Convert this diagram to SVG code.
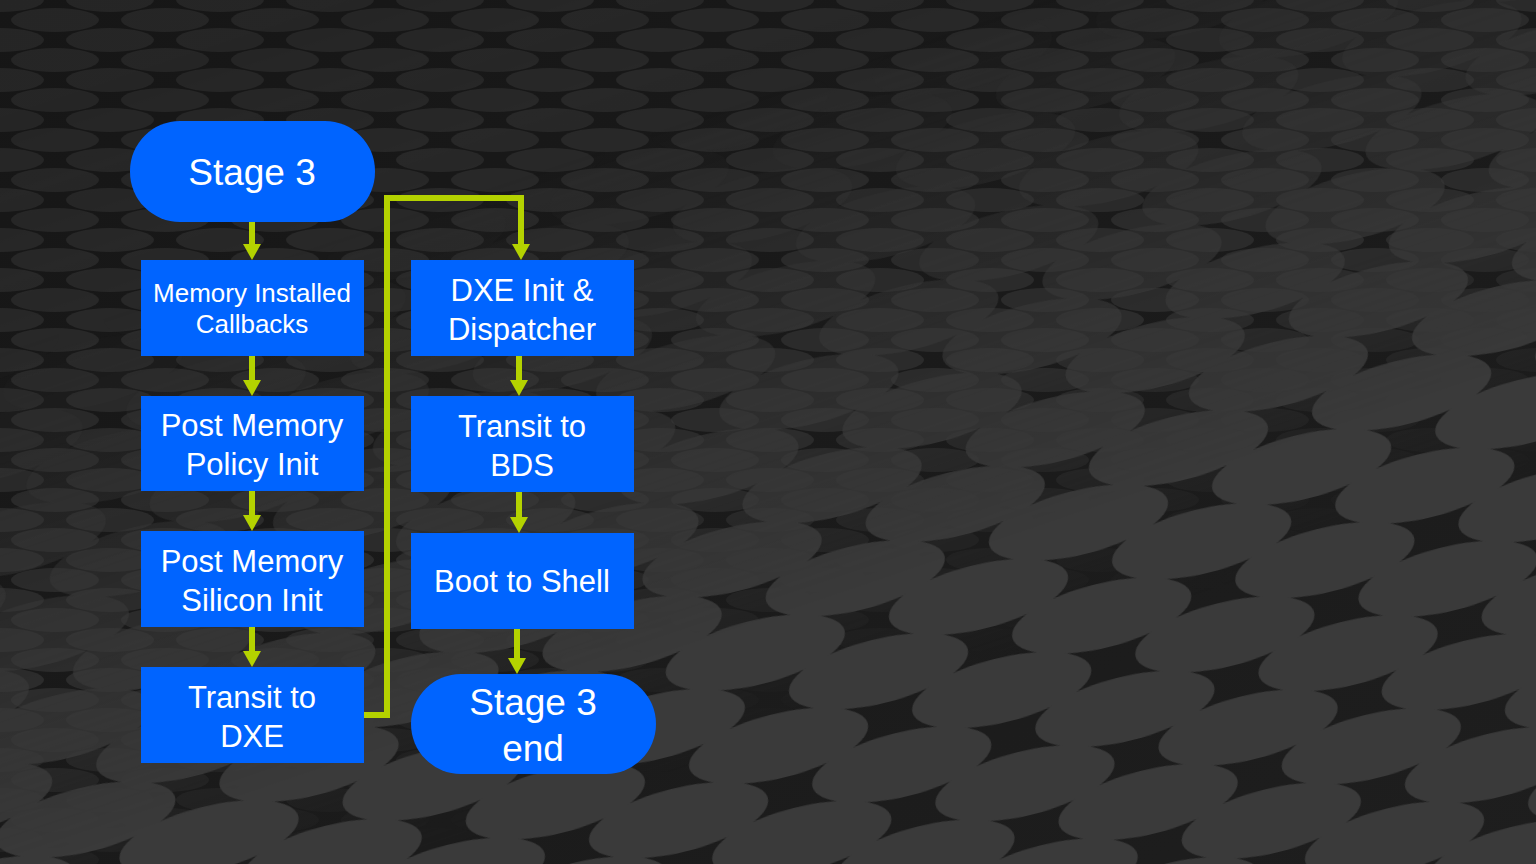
<svg xmlns="http://www.w3.org/2000/svg" width="1536" height="864" viewBox="0 0 1536 864">
<defs>
<style>
.box{fill:#0064FF;}
.lbl{font-family:"Liberation Sans",Arial,sans-serif;fill:#FFFFFF;text-anchor:middle;}
.conn{stroke:#B4D200;stroke-width:6;fill:none;}
.head{fill:#B4D200;}
</style>
<linearGradient id="bg" x1="0" y1="0" x2="1" y2="1">
<stop offset="0" stop-color="#161616"/>
<stop offset="1" stop-color="#1e1e1e"/>
</linearGradient>
<pattern id="ellS" width="110" height="40" patternUnits="userSpaceOnUse">
<ellipse cx="55" cy="20" rx="44" ry="12" fill="#2c2c2c"/>
<ellipse cx="0" cy="0" rx="44" ry="12" fill="#2c2c2c"/>
<ellipse cx="110" cy="0" rx="44" ry="12" fill="#2c2c2c"/>
<ellipse cx="0" cy="40" rx="44" ry="12" fill="#2c2c2c"/>
<ellipse cx="110" cy="40" rx="44" ry="12" fill="#2c2c2c"/>
</pattern>
<pattern id="ellL" width="230" height="96" patternUnits="userSpaceOnUse" patternTransform="rotate(-14)">
<ellipse cx="115" cy="48" rx="92" ry="32" fill="#3a3a3a"/>
<ellipse cx="0" cy="0" rx="92" ry="32" fill="#3a3a3a"/>
<ellipse cx="230" cy="0" rx="92" ry="32" fill="#3a3a3a"/>
<ellipse cx="0" cy="96" rx="92" ry="32" fill="#3a3a3a"/>
<ellipse cx="230" cy="96" rx="92" ry="32" fill="#3a3a3a"/>
</pattern>
<linearGradient id="fadeL" x1="0" y1="0" x2="0.6" y2="1">
<stop offset="0.3" stop-color="#fff" stop-opacity="0"/>
<stop offset="0.75" stop-color="#fff" stop-opacity="1"/>
</linearGradient>
<linearGradient id="fadeS" x1="0" y1="0" x2="0.6" y2="1">
<stop offset="0.1" stop-color="#fff" stop-opacity="0.7"/>
<stop offset="0.6" stop-color="#fff" stop-opacity="1"/>
<stop offset="0.85" stop-color="#fff" stop-opacity="0"/>
</linearGradient>
<mask id="mL"><rect width="1536" height="864" fill="url(#fadeL)"/></mask>
<mask id="mS"><rect width="1536" height="864" fill="url(#fadeS)"/></mask>
</defs>
<g id="background">
<rect width="1536" height="864" fill="url(#bg)"/>
<rect width="1536" height="864" fill="url(#ellS)" mask="url(#mS)"/>
<rect width="1536" height="864" fill="url(#ellL)" mask="url(#mL)"/>
</g>
<g id="connectors">
<line class="conn" x1="252" y1="221" x2="252" y2="246"/>
<polygon class="head" points="243,244 261,244 252,260"/>
<line class="conn" x1="252" y1="355" x2="252" y2="382"/>
<polygon class="head" points="243,380 261,380 252,396"/>
<line class="conn" x1="252" y1="490" x2="252" y2="517"/>
<polygon class="head" points="243,515 261,515 252,531"/>
<line class="conn" x1="252" y1="626" x2="252" y2="653"/>
<polygon class="head" points="243,651 261,651 252,667"/>
<polyline class="conn" points="363,715 387,715 387,198 521,198 521,246"/>
<polygon class="head" points="512,244 530,244 521,260"/>
<line class="conn" x1="519" y1="355" x2="519" y2="382"/>
<polygon class="head" points="510,380 528,380 519,396"/>
<line class="conn" x1="519" y1="491" x2="519" y2="519"/>
<polygon class="head" points="510,517 528,517 519,533"/>
<line class="conn" x1="517" y1="628" x2="517" y2="660"/>
<polygon class="head" points="508,658 526,658 517,674"/>
</g>
<g id="stage3">
<rect class="box" x="130" y="121" width="245" height="101" rx="50" ry="50"/>
<text class="lbl" x="252" y="185" font-size="37">Stage 3</text>
</g>
<g id="mem-installed">
<rect class="box" x="141" y="260" width="223" height="96"/>
<text class="lbl" x="252" y="302" font-size="26">Memory Installed</text>
<text class="lbl" x="252" y="333" font-size="26">Callbacks</text>
</g>
<g id="post-mem-policy">
<rect class="box" x="141" y="396" width="223" height="95"/>
<text class="lbl" x="252" y="436" font-size="31">Post Memory</text>
<text class="lbl" x="252" y="475" font-size="31">Policy Init</text>
</g>
<g id="post-mem-silicon">
<rect class="box" x="141" y="531" width="223" height="96"/>
<text class="lbl" x="252" y="572" font-size="31">Post Memory</text>
<text class="lbl" x="252" y="611" font-size="31">Silicon Init</text>
</g>
<g id="transit-dxe">
<rect class="box" x="141" y="667" width="223" height="96"/>
<text class="lbl" x="252" y="708" font-size="31">Transit to</text>
<text class="lbl" x="252" y="747" font-size="31">DXE</text>
</g>
<g id="dxe-init">
<rect class="box" x="411" y="260" width="223" height="96"/>
<text class="lbl" x="522" y="301" font-size="31">DXE Init &amp;</text>
<text class="lbl" x="522" y="340" font-size="31">Dispatcher</text>
</g>
<g id="transit-bds">
<rect class="box" x="411" y="396" width="223" height="96"/>
<text class="lbl" x="522" y="437" font-size="31">Transit to</text>
<text class="lbl" x="522" y="476" font-size="31">BDS</text>
</g>
<g id="boot-shell">
<rect class="box" x="411" y="533" width="223" height="96"/>
<text class="lbl" x="522" y="592" font-size="31">Boot to Shell</text>
</g>
<g id="stage3-end">
<rect class="box" x="411" y="674" width="245" height="100" rx="50" ry="50"/>
<text class="lbl" x="533" y="715" font-size="37">Stage 3</text>
<text class="lbl" x="533" y="761" font-size="37">end</text>
</g>
</svg>
